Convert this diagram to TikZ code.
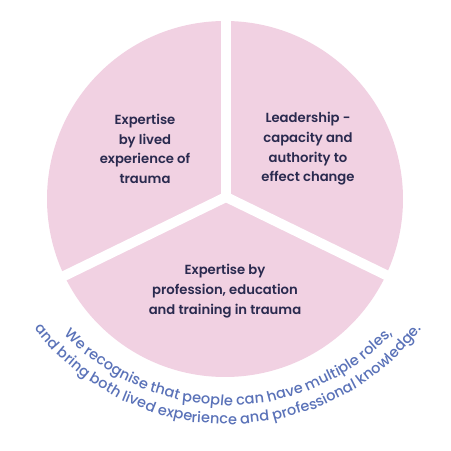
\documentclass[tikz,border=0pt]{standalone}
\usepackage{fontspec}
\setmainfont{Poppins}
\newfontfamily\labelfont{Poppins SemiBold}
\newfontfamily\curvefont{Poppins Medium}
\usetikzlibrary{calc}
\definecolor{pinkfill}{RGB}{241,209,226}
\definecolor{navy}{RGB}{42,42,79}
\definecolor{bluetext}{RGB}{90,114,184}
\tikzset{
  sector label/.style={text=navy, align=center, font=\labelfont\fontsize{13.2}{19.7}\selectfont},
  gap/.style={draw=white, line width=10pt},
  curve word/.style={anchor=base, inner sep=0pt, outer sep=0pt, text=bluetext},
}
\newlength\cftot
\newlength\cfcur
\newlength\cfwid
% measure text width with the real font (fonts are disabled inside pictures)
\newcommand\cfmeasure[3]{%
  \pgfinterruptpicture
    \settowidth{#1}{\curvefont\fontsize{#2}{#2}\selectfont #3}%
    \global#1=#1\relax
  \endpgfinterruptpicture}
% #1 name, #2 radius, #3 target arc length, #4 full text, #5 list of word/space-flag
\newcommand\curvedline[5]{%
  \cfmeasure{\cftot}{10}{#4}%
  \pgfmathsetmacro\cfsize{10*#3/\cftot}%
  \xdef\cfprefix{}%
  \foreach \w/\s [count=\i] in {#5} {%
    \cfmeasure{\cfcur}{\cfsize}{\cfprefix}%
    \cfmeasure{\cfwid}{\cfsize}{\w}%
    \pgfmathsetmacro\ang{270+(\cfcur+0.5*\cfwid-0.5*#3)/#2*180/pi}%
    \node[curve word, rotate=\ang-270, font=\curvefont\fontsize{\cfsize}{\cfsize}\selectfont]
      (#1-\i) at ($(tc)+(\ang:#2)$) {\w};
    \xdef\cfprefix{\cfprefix\w\ifnum\s=1 \space\fi}%
  }%
}
\begin{document}
\begin{tikzpicture}[x=1pt,y=1pt]
\useasboundingbox (0,0) rectangle (451,451);
\coordinate (c) at (225,252);
\coordinate (j) at (226,254);
\fill[pinkfill] (c) circle[radius=178];
\draw[gap] (j) -- ++(90:200);
\draw[gap] (j) -- ++(206:200);
\draw[gap] (j) -- ++(-26:200);
\node[sector label] (tl) at (145,302) {Expertise\\by lived\\experience of\\trauma};
\node[sector label] (tr) at (308,302) {Leadership -\\capacity and\\authority to\\effect change};
\node[sector label] (bt) at (225,160) {Expertise by\\profession, education\\and training in trauma};
\coordinate (tc) at (228,271);
\curvedline{lineA}{225}{368}{We recognise that people can have multiple roles,}%
  {We/1,recog/0,nise/1,that/1,people/1,can/1,have/1,multi/0,ple/1,{roles,}/0}
\curvedline{lineB}{244}{447}{and bring both lived experience and professional knowledge.}%
  {and/1,bring/1,both/1,lived/1,expe/0,rience/1,and/1,profes/0,sional/1,know/0,ledge./0}
\end{tikzpicture}
\end{document}
